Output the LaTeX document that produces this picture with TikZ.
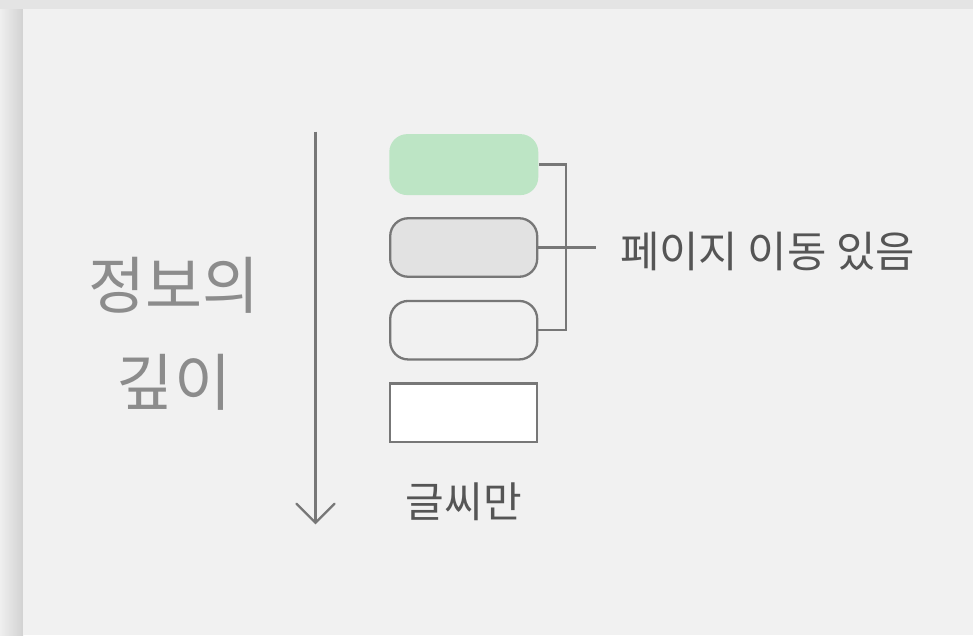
\documentclass[tikz,border=0pt]{standalone}
\usepackage{fontspec}
\newfontfamily\kr{Noto Sans CJK KR}
\usetikzlibrary{shadings,calc}
\definecolor{outerbg}{HTML}{E4E4E4}
\definecolor{panel}{HTML}{F1F1F1}
\definecolor{greenf}{HTML}{BDE5C5}
\definecolor{grayf}{HTML}{E2E2E2}
\definecolor{strokec}{HTML}{777777}
\definecolor{darktext}{HTML}{555555}
\definecolor{lighttext}{HTML}{8C8C8C}
\tikzset{
  rbox/.style={rounded corners=18pt, minimum width=147pt, minimum height=58.5pt, inner sep=0pt, draw=strokec, line width=2.3pt},
  conn/.style={draw=strokec, line width=2.3pt},
  lbl/.style={font=\kr, inner sep=0pt},
}
\begin{document}
\begin{tikzpicture}[x=1pt,y=-1pt]
\useasboundingbox (0,0) rectangle (973,635);
\fill[outerbg] (0,0) rectangle (973,635);
\shade[left color=outerbg!60!white, right color=outerbg!92!black] (0,9) rectangle (23,635);
\fill[panel] (23,9) rectangle (973,635);
% boxes
\node[rbox, draw=none, fill=greenf, minimum width=149pt, minimum height=61pt] (g) at (463.8,164.6) {};
\node[rbox, fill=grayf] (b2) at (463.7,247.5) {};
\node[rbox, fill=panel] (b3) at (463.7,330.2) {};
\node[rbox, rounded corners=0pt, fill=white] (b4) at (463.7,412.7) {};
% bracket
\coordinate (bx) at (566,164.6);
\coordinate (mid) at (595.7,247.5);
\draw[conn] (g.east) -- (bx) |- (b3.east);
\draw[conn] (b2.east) -- (mid);
\node[lbl, text=darktext, font=\kr\fontsize{42.8}{50}\selectfont, anchor=west] (t1) at (620,251) {페이지 이동 있음};
% arrow
\coordinate (atop) at (315.5,131.7);
\coordinate (atip) at (315.5,522.7);
\draw[conn] (atop) -- (atip);
\draw[conn, line cap=round, line join=miter] ($(atip)+(-19,-19)$) -- (atip) -- ($(atip)+(19,-19)$);
\node[lbl, text=darktext, font=\kr\fontsize{42}{50}\selectfont] (t2) at (463.7,502) {글씨만};
\node[lbl, text=lighttext, font=\kr\fontsize{62}{97}\selectfont, align=center] (t3) at (174,334) {정보의\\깊이};
\end{tikzpicture}
\end{document}
